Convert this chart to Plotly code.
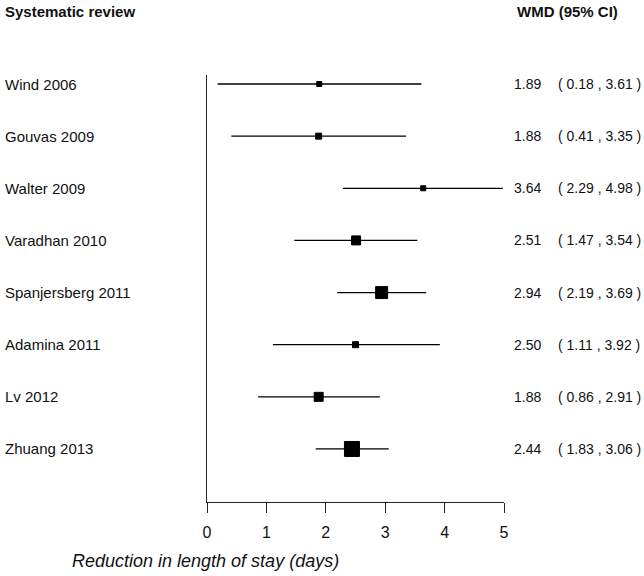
import plotly.graph_objects as go

studies = ["Wind 2006", "Gouvas 2009", "Walter 2009", "Varadhan 2010",
           "Spanjersberg 2011", "Adamina 2011", "Lv 2012", "Zhuang 2013"]
wmd = [1.89, 1.88, 3.64, 2.51, 2.94, 2.50, 1.88, 2.44]
ci_low = [0.18, 0.41, 2.29, 1.47, 2.19, 1.11, 0.86, 1.83]
ci_high = [3.61, 3.35, 4.98, 3.54, 3.69, 3.92, 2.91, 3.06]
x_ticks = [0, 1, 2, 3, 4, 5]

# visual style: square side in px (study weight)
marker_px = [5, 6, 5, 9, 12, 6, 9, 15]

rows = list(range(len(studies)))
FONT = "Liberation Sans, Arial, sans-serif"

# pixel geometry helpers
L, R_EDGE, TOP, BOT = 207, 504, 75, 502
def px_x(p):
    return (p - L) / (R_EDGE - L)
def px_y(p):
    return (BOT - p) / (BOT - TOP)

fig = go.Figure()
fig.add_trace(go.Scatter(
    x=wmd, y=rows, mode="markers",
    marker=dict(symbol="square", size=marker_px, color="black", opacity=1,
                line=dict(width=1, color="black")),
    error_x=dict(type="data", symmetric=False,
                 array=[h - e for h, e in zip(ci_high, wmd)],
                 arrayminus=[e - l for e, l in zip(wmd, ci_low)],
                 thickness=1.3, width=0, color="black"),
    showlegend=False, hoverinfo="skip", cliponaxis=False,
))

ann = []
for i, s in enumerate(studies):
    ann.append(dict(x=px_x(3), xref="paper", y=i, yref="y", text=s, showarrow=False,
                    xanchor="left", yanchor="middle", font=dict(size=15, color="#111", family=FONT)))
    ann.append(dict(x=px_x(543), xref="paper", y=i, yref="y", text=f"{wmd[i]:.2f}", showarrow=False,
                    xanchor="right", yanchor="middle", font=dict(size=14, color="#111", family=FONT)))
    ann.append(dict(x=px_x(556), xref="paper", y=i, yref="y",
                    text=f"( {ci_low[i]:.2f} , {ci_high[i]:.2f} )", showarrow=False,
                    xanchor="left", yanchor="middle", font=dict(size=14, color="#111", family=FONT)))

ann.append(dict(x=px_x(3), xref="paper", y=px_y(11), yref="paper", text="<b>Systematic review</b>",
                showarrow=False, xanchor="left", yanchor="middle",
                font=dict(size=15, color="#111", family=FONT)))
ann.append(dict(x=px_x(515), xref="paper", y=px_y(11), yref="paper", text="<b>WMD (95% CI)</b>",
                showarrow=False, xanchor="left", yanchor="middle",
                font=dict(size=15, color="#111", family=FONT)))
ann.append(dict(x=px_x(70), xref="paper", y=px_y(561), yref="paper",
                text="<i>Reduction in length of stay (days)</i>",
                showarrow=False, xanchor="left", yanchor="middle",
                font=dict(size=18, color="#111", family=FONT)))

fig.update_layout(
    width=644, height=576,
    margin=dict(l=L, r=644 - R_EDGE, t=TOP, b=576 - BOT),
    paper_bgcolor="white", plot_bgcolor="white",
    annotations=ann,
    xaxis=dict(range=[0, 5], tickvals=x_ticks, ticktext=[str(t) for t in x_ticks],
               showline=True, linecolor="#222", linewidth=1.3,
               ticks="outside", ticklen=10, tickwidth=1.3, tickcolor="#222",
               showgrid=False, zeroline=False, ticklabelstandoff=6,
               tickfont=dict(size=16, color="#111", family=FONT)),
    yaxis=dict(range=[8.017, -0.1726], showline=True, linecolor="#222", linewidth=1.3,
               showticklabels=False, ticks="", showgrid=False, zeroline=False),
)

fig.write_html("out.html", config={"displayModeBar": False},
               post_script="document.body.style.margin='0';document.body.style.overflow='hidden';")
